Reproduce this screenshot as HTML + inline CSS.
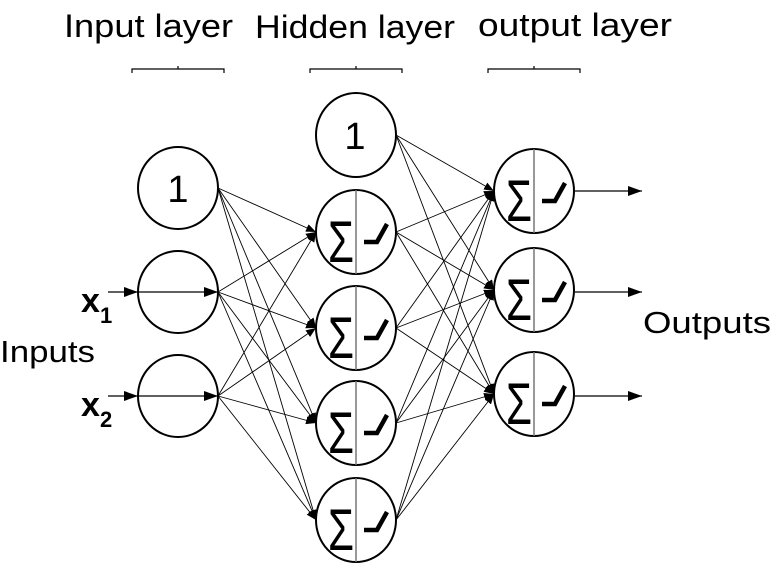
<!DOCTYPE html>
<html><head><meta charset="utf-8"><style>
html,body{margin:0;padding:0;background:#fff;}
svg{display:block;}
text{font-family:"Liberation Sans",sans-serif;fill:#000;}
</style></head><body>
<svg width="774" height="574" viewBox="0 0 774 574" xmlns="http://www.w3.org/2000/svg">
<defs>
<marker id="a" markerWidth="10" markerHeight="8" refX="10" refY="4" orient="auto" markerUnits="userSpaceOnUse">
<path d="M0,0 L10,4 L0,8 Z" fill="#000"/>
</marker>
<marker id="b" markerWidth="14" markerHeight="10" refX="14" refY="5" orient="auto" markerUnits="userSpaceOnUse">
<path d="M0,0 L14,5 L0,10 Z" fill="#000"/>
</marker>
</defs>
<!-- titles -->
<text x="64" y="37" font-size="32" textLength="169" lengthAdjust="spacingAndGlyphs">Input layer</text>
<text x="255" y="38" font-size="32" textLength="200" lengthAdjust="spacingAndGlyphs">Hidden layer</text>
<text x="478" y="36" font-size="32" textLength="194" lengthAdjust="spacingAndGlyphs">output layer</text>
<g stroke="#000" stroke-width="1.2" fill="none">
<path d="M132,73 V69 H224 V73 M178,69 V66"/>
<path d="M310,73 V69 H402 V73 M356,69 V66"/>
<path d="M488,73 V69 H580 V73 M534,69 V66"/>
</g>
<!-- input-hidden edges -->
<g stroke="#000" stroke-width="0.9" marker-end="url(#a)">
<line x1="218" y1="188" x2="316" y2="232"/><line x1="218" y1="188" x2="316" y2="328"/><line x1="218" y1="188" x2="316" y2="423"/><line x1="218" y1="188" x2="316" y2="520"/>
<line x1="218" y1="292" x2="316" y2="232"/><line x1="218" y1="292" x2="316" y2="328"/><line x1="218" y1="292" x2="316" y2="423"/><line x1="218" y1="292" x2="316" y2="520"/>
<line x1="218" y1="396" x2="316" y2="232"/><line x1="218" y1="396" x2="316" y2="328"/><line x1="218" y1="396" x2="316" y2="423"/><line x1="218" y1="396" x2="316" y2="520"/>
</g>
<!-- hidden-output edges -->
<g stroke="#000" stroke-width="0.9" marker-end="url(#a)">
<line x1="396" y1="135" x2="494" y2="191"/><line x1="396" y1="135" x2="494" y2="290"/><line x1="396" y1="135" x2="494" y2="394"/>
<line x1="396" y1="232" x2="494" y2="191"/><line x1="396" y1="232" x2="494" y2="290"/><line x1="396" y1="232" x2="494" y2="394"/>
<line x1="396" y1="328" x2="494" y2="191"/><line x1="396" y1="328" x2="494" y2="290"/><line x1="396" y1="328" x2="494" y2="394"/>
<line x1="396" y1="423" x2="494" y2="191"/><line x1="396" y1="423" x2="494" y2="290"/><line x1="396" y1="423" x2="494" y2="394"/>
<line x1="396" y1="520" x2="494" y2="191"/><line x1="396" y1="520" x2="494" y2="290"/><line x1="396" y1="520" x2="494" y2="394"/>
</g>
<!-- input/output arrows -->
<g stroke="#000" stroke-width="1.2" marker-end="url(#b)">
<line x1="108" y1="292" x2="138" y2="292"/><line x1="138" y1="292" x2="218" y2="292"/>
<line x1="108" y1="396" x2="138" y2="396"/><line x1="138" y1="396" x2="218" y2="396"/>
<line x1="575" y1="191" x2="642" y2="191"/><line x1="575" y1="292" x2="642" y2="292"/><line x1="575" y1="396" x2="642" y2="396"/>
</g>
<!-- input nodes -->
<g fill="none" stroke="#000" stroke-width="2">
<ellipse cx="178" cy="188" rx="40" ry="41"/>
<ellipse cx="178" cy="292" rx="40" ry="41"/>
<ellipse cx="178" cy="396" rx="40" ry="41"/>
<ellipse cx="356" cy="135" rx="40" ry="42" fill="#fff"/>
</g>
<text x="178" y="202" font-size="38" text-anchor="middle">1</text>
<text x="355" y="149" font-size="38" text-anchor="middle">1</text>
<!-- neuron units -->
<defs>
<g id="n">
<ellipse cx="0" cy="0" rx="40" ry="42" fill="#fff" stroke="#000" stroke-width="2"/>
<line x1="0" y1="-42" x2="0" y2="42" stroke="#777" stroke-width="1.5"/>
<text x="-28" y="30" font-size="58" textLength="26" lengthAdjust="spacingAndGlyphs">Σ</text>
<path d="M8,10 H21 L31,-8" fill="none" stroke="#000" stroke-width="4.5"/>
</g>
</defs>
<use href="#n" x="356" y="232"/>
<use href="#n" x="356" y="328"/>
<use href="#n" x="356" y="423"/>
<use href="#n" x="356" y="520"/>
<use href="#n" x="534" y="191"/>
<use href="#n" x="534" y="290"/>
<use href="#n" x="534" y="394"/>
<!-- labels -->
<text x="81" y="312" font-size="34" font-weight="bold">x</text><text x="100" y="323" font-size="22" font-weight="bold">1</text>
<text x="81" y="416" font-size="34" font-weight="bold">x</text><text x="100" y="427" font-size="22" font-weight="bold">2</text>
<text x="0" y="362" font-size="31" textLength="95" lengthAdjust="spacingAndGlyphs">Inputs</text>
<text x="643" y="333" font-size="31" textLength="128" lengthAdjust="spacingAndGlyphs">Outputs</text>
</svg>
</body></html>
